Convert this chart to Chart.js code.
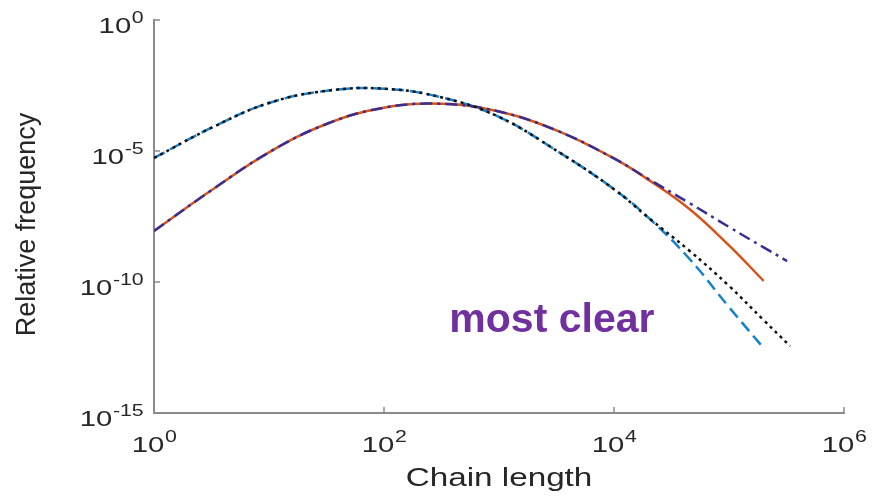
<!DOCTYPE html>
<html>
<head>
<meta charset="utf-8">
<script src="https://cdn.jsdelivr.net/npm/chart.js@4"></script>
<style>
html, body { margin: 0; padding: 0; background: #fff; }
#wrap { width: 877px; height: 500px; }
</style>
</head>
<body>
<div id="wrap"><canvas id="chart"></canvas></div>
<script>
// shared part of the upper-left pair (blue dashed + black dotted)
const lenA = [1, 3.2, 10, 32, 100, 320, 1000, 3200, 10000, 20000];
const freqA = [5.4e-6, 7.9e-5, 6.8e-4, 2.0e-3, 2.4e-3, 1.1e-3, 2.0e-4, 1.0e-5, 3.5e-7, 2.8e-8];
const lenBlueTail = [45000, 100000, 200000];
const freqBlueTail = [7.9e-10, 1.1e-11, 3.0e-13];
const lenBlackTail = [45000, 100000, 200000, 340000];
const freqBlackTail = [1.6e-9, 7.1e-11, 3.5e-12, 3.6e-13];

// shared part of the lower-left pair (orange solid + indigo dash-dot)
const lenB = [1, 3.2, 10, 32, 100, 320, 1000, 3200, 10000];
const freqB = [8.9e-9, 3.3e-7, 8.9e-6, 1.1e-4, 4.5e-4, 6.3e-4, 3.2e-4, 6.0e-5, 5.2e-6];
const lenOrangeTail = [20000, 45000, 100000, 200000];
const freqOrangeTail = [7.9e-7, 6.3e-8, 2.5e-9, 1.1e-10];
const lenIndigoTail = [20000, 45000, 100000, 200000, 320000];
const freqIndigoTail = [8.5e-7, 1.05e-7, 1.26e-8, 2.1e-9, 6.3e-10];

const xTicks = [1, 1e2, 1e4, 1e6];
const yTicks = [1e-15, 1e-10, 1e-5, 1];

const annotationText = 'most clear';
const annotationAt = { x: 370, y: 1.2e-12 };

function points(xs, ys) {
    return xs.map((x, i) => ({ x: x, y: ys[i] }));
}

const fontFamily = '"Liberation Sans", Arial, Helvetica, sans-serif';
const textColor = '#262626';
const axisColor = '#8a8a8a';
const stretch = 1.33; // the labels in the picture are drawn wide

// "10" with a raised exponent, like the original axis labels
function powParts(v) {
    return { base: '10', exp: String(Math.round(Math.log10(v))) };
}
function powWidth(ctx, v) {
    const p = powParts(v);
    ctx.font = '22px ' + fontFamily;
    const wb = ctx.measureText(p.base).width;
    ctx.font = '16px ' + fontFamily;
    const we = ctx.measureText(p.exp).width;
    return { wb: wb, total: (wb + we) * stretch };
}
function drawPow(ctx, v, left, baseline) {
    const p = powParts(v);
    const w = powWidth(ctx, v);
    ctx.save();
    ctx.translate(left, baseline);
    ctx.scale(stretch, 1);
    ctx.font = '22px ' + fontFamily;
    ctx.fillText(p.base, 0, 0);
    ctx.font = '16px ' + fontFamily;
    ctx.fillText(p.exp, w.wb + 0.5, -10);
    ctx.restore();
}

const axisDecor = {
    id: 'axisDecor',
    afterDraw(chart) {
        const ctx = chart.ctx;
        const xs = chart.scales.x, ys = chart.scales.y;
        const a = chart.chartArea;
        ctx.save();
        ctx.strokeStyle = axisColor;
        ctx.lineWidth = 1.5;
        ctx.fillStyle = textColor;
        ctx.textAlign = 'left';
        ctx.textBaseline = 'alphabetic';
        xTicks.forEach(v => {
            const px = xs.getPixelForValue(v);
            ctx.beginPath();
            ctx.moveTo(px, a.bottom);
            ctx.lineTo(px, a.bottom - 6);
            ctx.stroke();
            const w = powWidth(ctx, v);
            drawPow(ctx, v, px - w.total / 2, a.bottom + 39);
        });
        yTicks.forEach(v => {
            const py = ys.getPixelForValue(v);
            ctx.beginPath();
            ctx.moveTo(a.left, py);
            ctx.lineTo(a.left + 6, py);
            ctx.stroke();
            const w = powWidth(ctx, v);
            drawPow(ctx, v, a.left - 11 - w.total, py + 13);
        });
        // x axis title
        ctx.save();
        ctx.font = '25px ' + fontFamily;
        const tw = ctx.measureText('Chain length').width * stretch;
        ctx.translate((a.left + a.right) / 2 - tw / 2, a.bottom + 73);
        ctx.scale(stretch, 1);
        ctx.fillText('Chain length', 0, 0);
        ctx.restore();
        // y axis title
        ctx.save();
        ctx.font = '27px ' + fontFamily;
        ctx.textAlign = 'center';
        ctx.textBaseline = 'middle';
        ctx.translate(28, (a.top + a.bottom) / 2 + 8);
        ctx.rotate(-Math.PI / 2);
        ctx.fillText('Relative frequency', 0, 0);
        ctx.restore();
        // annotation
        ctx.fillStyle = '#7030A0';
        ctx.font = 'bold 41px ' + fontFamily;
        ctx.fillText(annotationText, xs.getPixelForValue(annotationAt.x), ys.getPixelForValue(annotationAt.y));
        ctx.restore();
    }
};

const ctx = document.getElementById('chart').getContext('2d');
new Chart(ctx, {
    type: 'line',
    data: {
        datasets: [
            {
                label: 'black dotted',
                data: points(lenA.concat(lenBlackTail), freqA.concat(freqBlackTail)),
                borderColor: '#111111',
                borderWidth: 2.5,
                borderDash: [3, 4]
            },
            {
                label: 'indigo dash-dot',
                data: points(lenB.concat(lenIndigoTail), freqB.concat(freqIndigoTail)),
                borderColor: '#3A2E92',
                borderWidth: 2.5,
                borderDash: [12, 5, 3, 5]
            },
            {
                label: 'blue dashed',
                data: points(lenA.concat(lenBlueTail), freqA.concat(freqBlueTail)),
                borderColor: '#1580CC',
                borderWidth: 2.5,
                borderDash: [12, 6]
            },
            {
                label: 'orange solid',
                data: points(lenB.concat(lenOrangeTail), freqB.concat(freqOrangeTail)),
                borderColor: '#D95319',
                borderWidth: 2.5
            }
        ]
    },
    options: {
        responsive: true,
        maintainAspectRatio: false,
        animation: false,
        elements: {
            point: { radius: 0 },
            line: { tension: 0.4, fill: false }
        },
        layout: { padding: { top: 20, right: 33, left: 0, bottom: 0 } },
        plugins: {
            legend: { display: false },
            tooltip: { enabled: false }
        },
        scales: {
            x: {
                type: 'logarithmic',
                min: 1,
                max: 1e6,
                afterBuildTicks: s => { s.ticks = xTicks.map(v => ({ value: v })); },
                afterFit: s => { s.height = 87; },
                grid: { display: false, drawTicks: false },
                border: { color: axisColor, width: 2 },
                ticks: { display: false }
            },
            y: {
                type: 'logarithmic',
                min: 1e-15,
                max: 1,
                afterBuildTicks: s => { s.ticks = yTicks.map(v => ({ value: v })); },
                afterFit: s => { s.width = 154; },
                grid: { display: false, drawTicks: false },
                border: { color: axisColor, width: 2 },
                ticks: { display: false }
            }
        }
    },
    plugins: [axisDecor]
});
</script>
</body>
</html>
